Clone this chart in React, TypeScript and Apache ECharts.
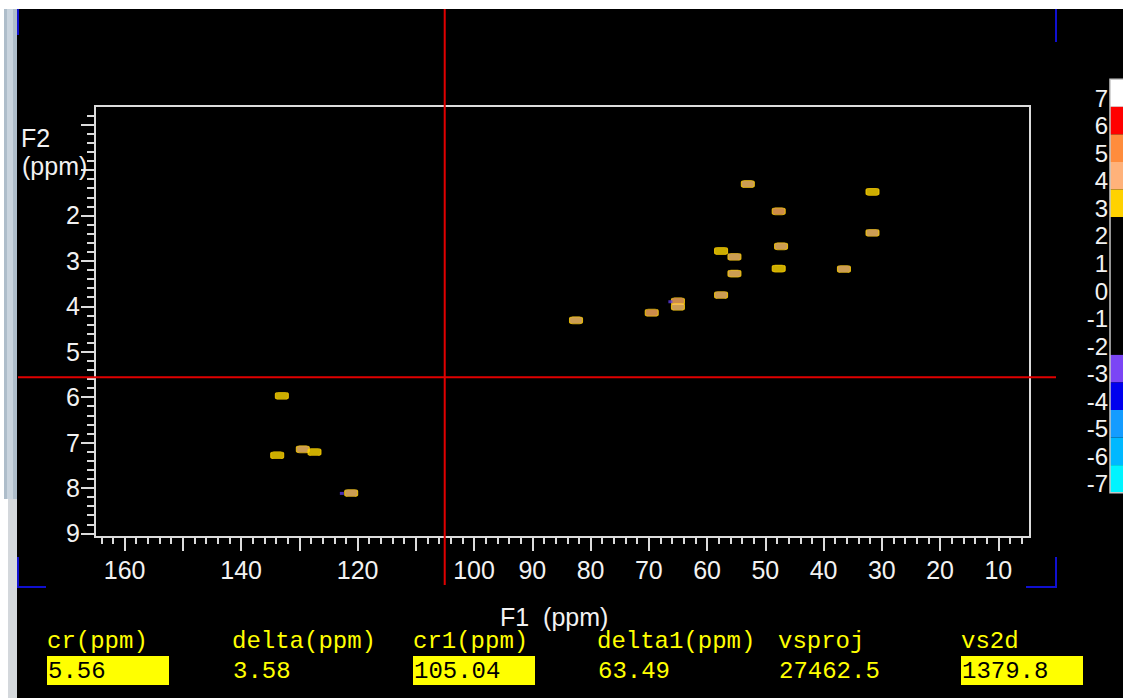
import React, { useEffect, useRef } from 'react';
import * as echarts from 'echarts';

// ---- data ----
const peakF1 = [53.0, 31.6, 47.7, 31.6, 57.6, 55.3, 47.3, 47.7, 55.3, 36.5, 57.6, 65.0, 65.0, 69.5, 82.5, 133.0, 133.8, 129.4, 127.4, 121.1];
const peakF2 = [1.31, 1.48, 1.91, 2.38, 2.78, 2.91, 2.68, 3.17, 3.28, 3.18, 3.75, 3.89, 4.01, 4.14, 4.31, 5.97, 7.28, 7.15, 7.21, 8.11];
const peakLevel = [4, 3, 5, 4, 3, 4, 4, 3, 4, 4, 4, 5, 4, 5, 4, 3, 3, 4, 3, 4];
const negPeakF1 = [66.3, 122.7];
const negPeakF2 = [3.9, 8.12];

const crossF1 = 105.04;
const crossF2 = 5.56;

const xMin = 4.56;
const xMax = 165.08;
const yMin = -0.41;
const yMax = 9.08;

const xMajorTicks = [10, 20, 30, 40, 50, 60, 70, 80, 90, 100, 110, 120, 130, 140, 150, 160];
const xLabelValues = [160, 140, 120, 100, 90, 80, 70, 60, 50, 40, 30, 20, 10];
const yMajorTicks = [0, 1, 2, 3, 4, 5, 6, 7, 8, 9];
const yLabelValues = [2, 3, 4, 5, 6, 7, 8, 9];

const colorbarLabels = ['7', '6', '5', '4', '3', '2', '1', '0', '-1', '-2', '-3', '-4', '-5', '-6', '-7'];
const colorbarColors = ['#ffffff', '#ff0000', '#ff8c3c', '#ffb27a', '#ffd200', '#000000', '#000000', '#000000', '#000000', '#000000', '#7b45f5', '#0000ee', '#149cff', '#00b8ff', '#00f4ff'];

const readoutLabels = ['cr(ppm)', 'delta(ppm)', 'cr1(ppm)', 'delta1(ppm)', 'vsproj', 'vs2d'];
const readoutValues = ['5.56', '3.58', '105.04', '63.49', '27462.5', '1379.8'];
const readoutBoxed = [true, false, true, false, false, true];

const levelColor: Record<number, string> = { 3: '#ffd800', 4: '#ffc468', 5: '#ffae5c' };

function buildMinor(from: number, to: number, step: number, majors: number[]) {
  const out: number[] = [];
  for (let v = from; v <= to + 1e-9; v += step) {
    const r = Math.round(v * 10) / 10;
    if (!majors.some((m) => Math.abs(m - r) < 1e-6)) out.push(r);
  }
  return out;
}

const xMinorTicks = buildMinor(6, 164, 2, xMajorTicks);
const yMinorTicks = buildMinor(-0.2, 9.0, 0.2, yMajorTicks);

export default function App() {
  const ref = useRef<HTMLDivElement>(null);
  useEffect(() => {
    document.body.style.margin = '0';
    const chart = echarts.init(ref.current!, null, { renderer: 'svg' });
    const axisColor = '#dcdcdc';
    const labelFont = { color: '#f2f2f2', fontSize: 25, fontFamily: 'Liberation Sans' };
    const option: any = {
      animation: false,
      backgroundColor: '#000000',
      grid: { left: 95, top: 106, width: 935, height: 431, show: true, borderColor: axisColor, borderWidth: 2, backgroundColor: 'transparent' },
      xAxis: [
        {
          type: 'value', min: xMin, max: xMax, inverse: true, position: 'bottom',
          axisLine: { show: true, onZero: false, lineStyle: { color: axisColor, width: 2 } },
          axisTick: { show: true, customValues: xMajorTicks, length: 14, lineStyle: { color: axisColor, width: 2 } },
          axisLabel: { show: true, customValues: xLabelValues, margin: 20, ...labelFont },
          splitLine: { show: false },
        },
        {
          type: 'value', min: xMin, max: xMax, inverse: true, position: 'bottom',
          axisLine: { show: false, onZero: false },
          axisTick: { show: true, customValues: xMinorTicks, length: 7, lineStyle: { color: axisColor, width: 2 } },
          axisLabel: { show: false },
          splitLine: { show: false },
        },
      ],
      yAxis: [
        {
          type: 'value', min: yMin, max: yMax, inverse: true, position: 'left',
          axisLine: { show: true, onZero: false, lineStyle: { color: axisColor, width: 2 } },
          axisTick: { show: true, customValues: yMajorTicks, length: 14, lineStyle: { color: axisColor, width: 2 } },
          axisLabel: { show: true, customValues: yLabelValues, margin: 15, ...labelFont },
          splitLine: { show: false },
        },
        {
          type: 'value', min: yMin, max: yMax, inverse: true, position: 'left',
          axisLine: { show: false, onZero: false },
          axisTick: { show: true, customValues: yMinorTicks, length: 8, lineStyle: { color: axisColor, width: 2 } },
          axisLabel: { show: false },
          splitLine: { show: false },
        },
      ],
      series: [
        {
          type: 'scatter',
          xAxisIndex: 0, yAxisIndex: 0,
          symbol: 'roundRect',
          symbolSize: [13, 7],
          data: peakF1.map((x, i) => [x, peakF2[i], peakLevel[i]]),
          itemStyle: {
            color: (p: any) => levelColor[p.value[2]],
            borderColor: '#ffd000',
            borderWidth: 0.8,
          },
          z: 3,
        },
        {
          type: 'scatter',
          xAxisIndex: 0, yAxisIndex: 0,
          symbol: 'rect',
          symbolSize: [4, 3],
          data: negPeakF1.map((x, i) => [x, negPeakF2[i]]),
          itemStyle: { color: '#5a3ae0' },
          z: 3,
        },
      ],
    };
    chart.setOption(option);

    const [cx, cy] = chart.convertToPixel({ seriesIndex: 0 }, [crossF1, crossF2]) as number[];

    const monoFont = 'Liberation Mono';
    const graphics: any[] = [];
    // page frame
    graphics.push({ type: 'rect', shape: { x: 0, y: 0, width: 1123, height: 9 }, style: { fill: '#ffffff' }, z: 1 });
    graphics.push({ type: 'rect', shape: { x: 0, y: 0, width: 17, height: 698 }, style: { fill: '#ffffff' }, z: 1 });
    graphics.push({ type: 'rect', shape: { x: 4, y: 9, width: 13, height: 490 }, style: { fill: '#aebdca' }, z: 1 });
    graphics.push({ type: 'rect', shape: { x: 7, y: 9, width: 6, height: 490 }, style: { fill: '#c9d4de' }, z: 1 });
    graphics.push({ type: 'rect', shape: { x: 8, y: 499, width: 9, height: 199 }, style: { fill: '#d4d8dc' }, z: 1 });
    // blue corner marks
    const blue = '#1010d0';
    graphics.push({ type: 'line', shape: { x1: 18, y1: 9, x2: 18, y2: 35 }, style: { stroke: blue, lineWidth: 2 }, z: 5 });
    graphics.push({ type: 'line', shape: { x1: 1056, y1: 9, x2: 1056, y2: 42 }, style: { stroke: blue, lineWidth: 2 }, z: 5 });
    graphics.push({ type: 'polyline', shape: { points: [[18, 557], [18, 587], [46, 587]] }, style: { stroke: blue, lineWidth: 2, fill: 'none' }, z: 5 });
    graphics.push({ type: 'polyline', shape: { points: [[1026, 587], [1056, 587], [1056, 557]] }, style: { stroke: blue, lineWidth: 2, fill: 'none' }, z: 5 });
    // axis titles
    graphics.push({ type: 'text', x: 21, y: 138, style: { text: 'F2', fill: '#f2f2f2', fontSize: 25, fontFamily: 'Liberation Sans', verticalAlign: 'middle' }, z: 6 });
    graphics.push({ type: 'text', x: 22, y: 166, style: { text: '(ppm)', fill: '#f2f2f2', fontSize: 25, fontFamily: 'Liberation Sans', verticalAlign: 'middle' }, z: 6 });
    graphics.push({ type: 'text', x: 500, y: 617, style: { text: 'F1  (ppm)', fill: '#f2f2f2', fontSize: 25, fontFamily: 'Liberation Sans', verticalAlign: 'middle' }, z: 6 });
    // crosshair
    graphics.push({ type: 'line', shape: { x1: cx, y1: 9, x2: cx, y2: 585 }, style: { stroke: '#e00000', lineWidth: 2 }, z: 20 });
    graphics.push({ type: 'line', shape: { x1: 18, y1: cy, x2: 1056, y2: cy }, style: { stroke: '#e00000', lineWidth: 2 }, z: 20 });
    // colorbar
    const cbTop = 79.3;
    const cbH = 27.56;
    colorbarColors.forEach((c, i) => {
      graphics.push({ type: 'rect', shape: { x: 1110, y: cbTop + i * cbH, width: 14, height: cbH }, style: { fill: c }, z: 6 });
      graphics.push({ type: 'text', x: 1108, y: cbTop + i * cbH + cbH / 2 + 5, style: { text: colorbarLabels[i], fill: '#f2f2f2', fontSize: 24, fontFamily: 'Liberation Sans', align: 'right', verticalAlign: 'middle' }, z: 6 });
    });
    graphics.push({ type: 'rect', shape: { x: 1110, y: cbTop, width: 14, height: cbH * 15 }, style: { fill: 'none', stroke: '#c8c8c8', lineWidth: 1.5 }, z: 7 });
    // readouts
    const colX = [47, 232, 413, 597, 778, 961];
    readoutLabels.forEach((lab, i) => {
      graphics.push({ type: 'text', x: colX[i], y: 641, style: { text: lab, fill: '#ffff00', fontSize: 24, fontFamily: monoFont, verticalAlign: 'middle' }, z: 8 });
      if (readoutBoxed[i]) {
        graphics.push({ type: 'rect', shape: { x: colX[i], y: 656, width: 122, height: 29 }, style: { fill: '#ffff00' }, z: 8 });
      }
      graphics.push({ type: 'text', x: colX[i] + 1, y: 671, style: { text: readoutValues[i], fill: readoutBoxed[i] ? '#000000' : '#ffff00', fontSize: 24, fontFamily: monoFont, verticalAlign: 'middle' }, z: 9 });
    });
    chart.setOption({ graphic: graphics });
    return () => chart.dispose();
  }, []);
  return <div ref={ref} style={{ width: 1123, height: 698 }} />;
}
